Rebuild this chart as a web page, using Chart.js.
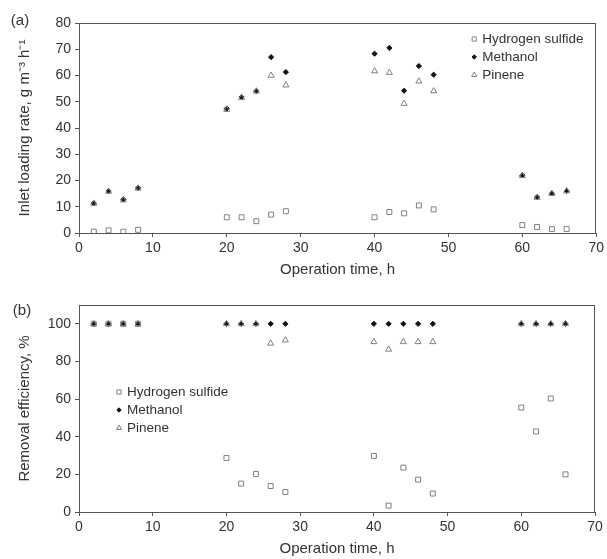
<!DOCTYPE html>
<html>
<head>
<meta charset="utf-8">
<script src="https://cdn.jsdelivr.net/npm/chart.js@4.4.0/dist/chart.umd.min.js"></script>
<style>
  html, body { margin: 0; padding: 0; background: #fff; }
  #wrap { position: relative; width: 607px; height: 559px; }
  canvas { position: absolute; left: 0; }
  #c1 { top: 0; }
  #c2 { top: 280px; }
</style>
</head>
<body>
<div id="wrap">
  <canvas id="c1" width="607" height="280"></canvas>
  <canvas id="c2" width="607" height="279"></canvas>
</div>
<script>
// ---- data ----
const timeH = [2, 4, 6, 8, 20, 22, 24, 26, 28, 40, 42, 44, 46, 48, 60, 62, 64, 66];
const seriesNames = ['Hydrogen sulfide', 'Methanol', 'Pinene'];

// (a) inlet loading rate, g m-3 h-1
const h2sLoad      = [0.5, 1, 0.5, 1.2, 6, 6, 4.5, 7, 8.3, 6, 8, 7.5, 10.5, 9, 3, 2.3, 1.5, 1.5];
const methanolLoad = [11.4, 16, 12.8, 17.2, 47.4, 51.8, 54.1, 67, 61.3, 68.3, 70.5, 54.2, 63.6, 60.3, 22, 13.7, 15.1, 16];
const pineneLoad   = [11.2, 15.8, 12.5, 17, 47, 51.5, 54, 60, 56.3, 61.7, 61.1, 49.3, 57.8, 54.1, 21.8, 13.5, 15, 16];

// (b) removal efficiency, %
const h2sRE      = [100, 100, 100, 100, 28.7, 15.1, 20.2, 13.8, 10.6, 29.8, 3.4, 23.6, 17.2, 9.8, 55.5, 42.8, 60.3, 20];
const methanolRE = [100, 100, 100, 100, 100, 100, 100, 100, 100, 100, 100, 100, 100, 100, 100, 100, 100, 100];
const pineneRE   = [100, 100, 100, 100, 100, 100, 100, 89.6, 91.3, 90.4, 86.4, 90.4, 90.4, 90.4, 100, 100, 100, 100];

const xTicks = [0, 10, 20, 30, 40, 50, 60, 70];
const yTicksA = [0, 10, 20, 30, 40, 50, 60, 70, 80];
const yTicksB = [0, 20, 40, 60, 80, 100];

// ---- styles ----
const FONT = "'Liberation Sans', Arial, Helvetica, sans-serif";
const TEXT = '#333';
const AXIS = '#555';
const styles = [
  { pointStyle: 'rect', pointRadius: 3.5, borderColor: '#808080', backgroundColor: 'rgba(255,255,255,0)', order: 1 },
  { pointStyle: 'rectRot', pointRadius: 2.6, borderColor: '#111', backgroundColor: '#111', order: 2 },
  { pointStyle: 'triangle', pointRadius: 3.5, borderColor: '#808080', backgroundColor: 'rgba(255,255,255,0)', order: 0 }
];

function toPts(ys) { return timeH.map((x, i) => ({ x: x, y: ys[i] })); }

function makeDatasets(arrs) {
  return arrs.map((ys, i) => ({
    label: seriesNames[i],
    data: toPts(ys),
    order: styles[i].order,
    showLine: false,
    pointStyle: styles[i].pointStyle,
    pointRadius: styles[i].pointRadius,
    pointBorderWidth: 1,
    pointBorderColor: styles[i].borderColor,
    pointBackgroundColor: styles[i].backgroundColor,
    borderColor: styles[i].borderColor,
    backgroundColor: styles[i].backgroundColor
  }));
}

// frame + custom legend + panel label plugin
function decorPlugin(panelLabel, labelPos, legendPos) {
  return {
    id: 'decor',
    afterDraw(chart) {
      const ctx = chart.ctx;
      const a = chart.chartArea;
      ctx.save();
      ctx.strokeStyle = AXIS;
      ctx.lineWidth = 1;
      ctx.strokeRect(Math.round(a.left) + 0.5, Math.round(a.top) + 0.5,
                     Math.round(a.right - a.left) - 1, Math.round(a.bottom - a.top));
      // panel label
      ctx.fillStyle = TEXT;
      ctx.font = '15px ' + FONT;
      ctx.textAlign = 'center';
      ctx.textBaseline = 'middle';
      ctx.fillText(panelLabel, labelPos.x, labelPos.y);
      // legend
      ctx.font = '13.5px ' + FONT;
      ctx.textAlign = 'left';
      const mx = legendPos.fromRight ? a.right - legendPos.dx : a.left + legendPos.dx;
      chart.data.datasets.forEach((ds, i) => {
        const y = a.top + legendPos.dy + i * 18;
        ctx.strokeStyle = ds.pointBorderColor;
        ctx.fillStyle = ds.pointBackgroundColor;
        ctx.lineWidth = 1;
        Chart.helpers.drawPoint(ctx, { pointStyle: ds.pointStyle, radius: ds.pointRadius * 0.85, borderWidth: 1, rotation: 0 }, mx, y);
        ctx.fillStyle = TEXT;
        ctx.fillText(ds.label, mx + 8, y + 0.5);
      });
      ctx.restore();
    }
  };
}

function buildChart(id, arrs, yMax, yTickVals, yTitle, xHeight, pad, panelLabel, labelPos, legendPos) {
  return new Chart(document.getElementById(id), {
    type: 'scatter',
    data: { datasets: makeDatasets(arrs) },
    options: {
      responsive: false,
      animation: false,
      devicePixelRatio: 1,
      layout: { padding: pad },
      plugins: { legend: { display: false }, tooltip: { enabled: false } },
      scales: {
        x: {
          type: 'linear',
          min: 0, max: 70,
          afterBuildTicks: s => { s.ticks = xTicks.map(v => ({ value: v })); },
          afterFit: s => { s.height = xHeight; },
          grid: { drawOnChartArea: false, drawTicks: true, tickLength: 4, color: AXIS },
          border: { display: true, color: AXIS, width: 1 },
          ticks: { color: TEXT, font: { family: FONT, size: 14 }, padding: 3, maxRotation: 0 },
          title: { display: true, text: 'Operation time, h', color: TEXT,
                   font: { family: FONT, size: 15 }, padding: { top: 0, bottom: 1 } }
        },
        y: {
          type: 'linear',
          min: 0, max: yMax,
          afterBuildTicks: s => { s.ticks = yTickVals.map(v => ({ value: v })); },
          afterFit: s => { s.width = 79; },
          grid: { drawOnChartArea: false, drawTicks: true, tickLength: 4, color: AXIS },
          border: { display: true, color: AXIS, width: 1 },
          ticks: { color: TEXT, font: { family: FONT, size: 14 }, padding: 4 },
          title: { display: true, text: yTitle, color: TEXT,
                   font: { family: FONT, size: 15 }, padding: { top: 16, bottom: 0 } }
        }
      }
    },
    plugins: [decorPlugin(panelLabel, labelPos, legendPos)]
  });
}

buildChart('c1', [h2sLoad, methanolLoad, pineneLoad], 80, yTicksA,
  'Inlet loading rate, g m\u207B\u00B3 h\u207B\u00B9', 47,
  { top: 23, right: 10, left: 0, bottom: 0 },
  '(a)', { x: 20, y: 21 }, { fromRight: true, dx: 122, dy: 16 });

buildChart('c2', [h2sRE, methanolRE, pineneRE], 110, yTicksB,
  'Removal efficiency, %', 47,
  { top: 25, right: 12, left: 0, bottom: 0 },
  '(b)', { x: 22, y: 31 }, { fromRight: false, dx: 40, dy: 87 });
</script>
</body>
</html>
